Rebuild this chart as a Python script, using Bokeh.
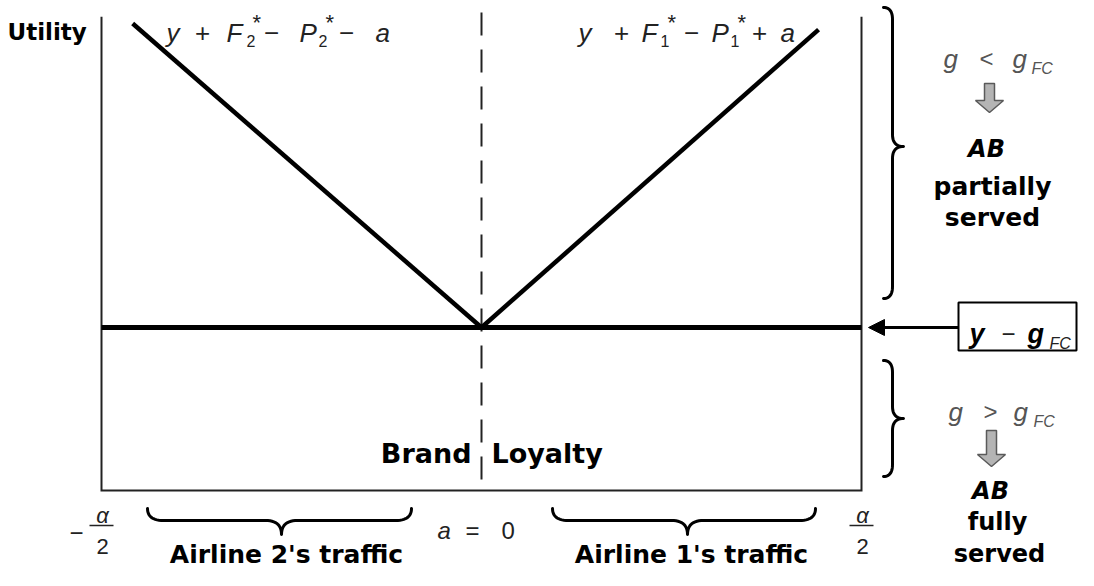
import numpy as np
from bokeh.plotting import figure
from bokeh.models import Range1d, Arrow, NormalHead
from bokeh.core.properties import value
from bokeh.embed import file_html
from bokeh.resources import INLINE

# ---------------- data (diagram units: a in units of alpha/2, utility relative to y - g_FC) -------------
a_ticks = [-1.0, 0.0, 1.0]
a_tick_labels = ["α/2", "a = 0", "α/2"]
floor_a = [-1.0, 1.0]          # horizontal utility y - g_FC
floor_u = [0.0, 0.0]
line2_a = [-0.918, 0.0]        # y + F2* - P2* - a   (airline 2)
line2_u = [0.800, 0.0]
line1_a = [0.0, 0.887]         # y + F1* - P1* + a   (airline 1)
line1_u = [0.0, 0.784]
frame_u = [-0.429, 0.818]      # bottom / top of the utility frame
dash_top_u = 0.829

# ---------------- layout helpers (screen pixel -> diagram units) ----------------
X0, Y0, S = 481.0, 327.0, 380.0
def X(px):
    return (px - X0) / S
def Y(py):
    return (Y0 - py) / S

W, H = 1078, 570
p = figure(width=W, height=H, output_backend="svg", toolbar_location=None,
           x_range=Range1d(X(0), X(W)), y_range=Range1d(Y(H), Y(0)),
           x_axis_type=None, y_axis_type=None, min_border=0,
           outline_line_color=None, background_fill_color="white",
           border_fill_color="white")
p.grid.visible = False

BOLD = "DejaVu Sans"
MATH = "Liberation Sans"

def txt(s, px, py, size, style="normal", color="#000", align="left", font=BOLD):
    p.text(x=[X(px)], y=[Y(py)], text=[s], text_font=value(font),
           text_font_size=value(f"{size}px"), text_font_style=style,
           text_color=color, text_align=align, text_baseline="alphabetic")

# ---------------- frame ----------------
p.line(x=[a_ticks[0], a_ticks[0], a_ticks[2], a_ticks[2]],
       y=[frame_u[1], frame_u[0], frame_u[0], frame_u[1]],
       line_color="#222", line_width=2, line_join="miter")
p.line(x=[a_ticks[1], a_ticks[1]], y=[dash_top_u, frame_u[0]],
       line_color="#222", line_width=2, line_dash="23 14")

# ---------------- utility lines ----------------
p.line(x=floor_a, y=floor_u, line_color="black", line_width=5)
p.line(x=line2_a, y=line2_u, line_color="black", line_width=4.5)
p.line(x=line1_a, y=line1_u, line_color="black", line_width=4.5)

# ---------------- braces ----------------
def qbez(p0, p1, p2, n=14):
    t = np.linspace(0, 1, n)[:, None]
    p0, p1, p2 = map(np.array, (p0, p1, p2))
    return (1 - t) ** 2 * p0 + 2 * (1 - t) * t * p1 + t ** 2 * p2

def vbrace(xs, y0, y1, yt, c=9, tip=11, r=12):
    pts = np.vstack([
        qbez((xs - c, y0), (xs, y0), (xs, y0 + r)),
        qbez((xs, yt - r), (xs, yt), (xs + tip, yt)),
        qbez((xs + tip, yt), (xs, yt), (xs, yt + r)),
        qbez((xs, y1 - r), (xs, y1), (xs - c, y1)),
    ])
    p.line(x=[X(v) for v in pts[:, 0]], y=[Y(v) for v in pts[:, 1]],
           line_color="black", line_width=3, line_cap="round", line_join="round")

def hbrace(ys, x0, x1, xt, c=12, tip=14, r=16):
    pts = np.vstack([
        qbez((x0, ys - c), (x0, ys), (x0 + r, ys)),
        qbez((xt - r, ys), (xt, ys), (xt, ys + tip)),
        qbez((xt, ys + tip), (xt, ys), (xt + r, ys)),
        qbez((x1 - r, ys), (x1, ys), (x1, ys - c)),
    ])
    p.line(x=[X(v) for v in pts[:, 0]], y=[Y(v) for v in pts[:, 1]],
           line_color="black", line_width=3, line_cap="round", line_join="round")

vbrace(892, 7, 298, 146)
vbrace(892, 360, 476, 418)
hbrace(520, 147, 411, 281)
hbrace(520, 552, 815, 687)

# ---------------- block arrows ----------------
def block_arrow(cx, ytop, yhead, ytip, sw=5, hw=14):
    xs = [cx - sw, cx + sw, cx + sw, cx + hw, cx, cx - hw, cx - sw]
    ys = [ytop, ytop, yhead, yhead, ytip, yhead, yhead]
    p.patch(x=[X(v) for v in xs], y=[Y(v) for v in ys],
            fill_color="#b4b4b4", line_color="#5a5a5a", line_width=1.5)

block_arrow(989, 83, 100, 112)
block_arrow(991, 430, 454, 466)

# ---------------- y - g_FC box and arrow ----------------
p.quad(left=X(958), right=X(1076), top=Y(302), bottom=Y(350),
       fill_color="white", line_color="black", line_width=2)
p.add_layout(Arrow(end=NormalHead(size=16, fill_color="black", line_color="black"),
                   x_start=X(958), y_start=floor_u[0], x_end=X(868), y_end=floor_u[0],
                   line_color="black", line_width=3))
txt("y", 969, 333, 27, "bold italic", "#000", font=MATH)
txt("−", 1008, 333, 24, "normal", "#222", "center", MATH)
txt("g", 1027, 333, 27, "bold italic", "#000", font=MATH)
txt("FC", 1049, 343, 16, "italic", "#222", font=MATH)

# ---------------- curve labels ----------------
mc = "#222"
for s, x, a in [("y", 166, "left"), ("+", 202, "center"), ("F", 226, "left"),
                ("−", 271, "center"), ("P", 299, "left"), ("−", 346, "center"), ("a", 375, "left")]:
    txt(s, x, 32, 26, "normal" if s in "+−" else "italic", mc, a, MATH)
txt("2", 246, 40, 16, "normal", mc, font=MATH)
txt("2", 318, 40, 16, "normal", mc, font=MATH)
txt("*", 252, 22, 22, "normal", mc, font=MATH)
txt("*", 325, 22, 22, "normal", mc, font=MATH)

for s, x, a in [("y", 578, "left"), ("+", 621, "center"), ("F", 641, "left"),
                ("−", 691, "center"), ("P", 711, "left"), ("+", 759, "center"), ("a", 780, "left")]:
    txt(s, x, 32, 26, "normal" if s in "+−" else "italic", mc, a, MATH)
txt("1", 660, 40, 16, "normal", mc, font=MATH)
txt("1", 730, 40, 16, "normal", mc, font=MATH)
txt("*", 667, 22, 22, "normal", mc, font=MATH)
txt("*", 737, 22, 22, "normal", mc, font=MATH)

# ---------------- g conditions ----------------
gc = "#555"
txt("g", 943, 58, 26, "italic", gc, font=MATH)
txt("<", 986, 58, 24, "normal", gc, "center", MATH)
txt("g", 1012, 58, 26, "italic", gc, font=MATH)
txt("FC", 1031, 68, 16, "italic", gc, font=MATH)

txt("g", 948, 411, 26, "italic", gc, font=MATH)
txt(">", 990, 411, 24, "normal", gc, "center", MATH)
txt("g", 1013, 411, 26, "italic", gc, font=MATH)
txt("FC", 1033, 421, 16, "italic", gc, font=MATH)

# ---------------- bold texts ----------------
txt("Utility", 7, 31, 23, "bold")
txt("Brand", 471, 453, 27, "bold", align="right")
txt("Loyalty", 491, 453, 27, "bold")
txt("Airline 2's traffic", 286, 554, 25, "bold", align="center")
txt("Airline 1's traffic", 691, 554, 25, "bold", align="center")

txt("AB", 986, 148, 24, "bold italic", align="center")
txt("partially", 992, 186, 25, "bold", align="center")
txt("served", 992, 217, 25, "bold", align="center")
txt("AB", 990, 490, 24, "bold italic", align="center")
txt("fully", 997, 521, 24, "bold", align="center")
txt("served", 999, 553, 24, "bold", align="center")

# ---------------- a-axis labels ----------------
tc = "#222"
def frac(a, label_top):
    cx = X0 + a * S
    txt(label_top.split("/")[0], cx + 1, 515, 22, "italic", tc, "center", MATH)
    p.line(x=[X(cx - 12), X(cx + 12)], y=[Y(525), Y(525)], line_color=tc, line_width=1.5)
    txt(label_top.split("/")[1], cx + 1, 546, 22, "normal", tc, "center", MATH)

frac(a_ticks[0], a_tick_labels[0])
txt("−", X0 + a_ticks[0] * S - 25, 532, 24, "normal", tc, "center", MATH)
frac(a_ticks[2], a_tick_labels[2])
txt("a", 437, 530, 24, "italic", tc, font=MATH)
txt("=", 472, 530, 24, "normal", tc, "center", MATH)
txt("0", 501, 530, 24, "normal", tc, font=MATH)

open("out.html", "w").write(file_html(p, INLINE))
